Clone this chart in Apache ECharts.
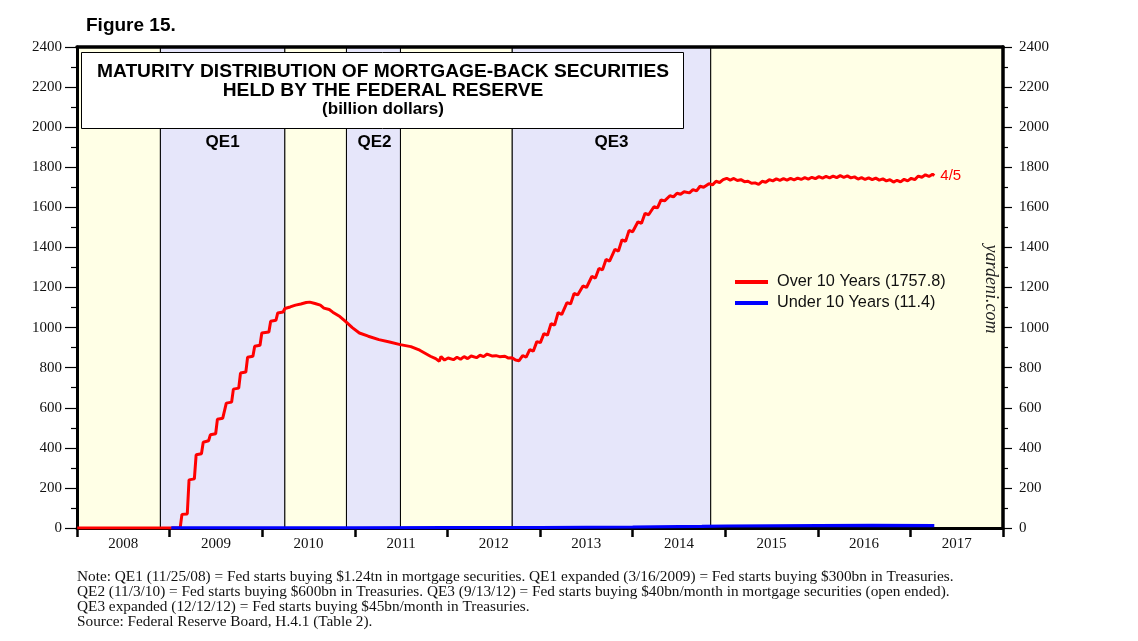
<!DOCTYPE html>
<html>
<head>
<meta charset="utf-8">
<script src="https://cdn.jsdelivr.net/npm/echarts@6/dist/echarts.min.js"></script>
<style>
html,body{margin:0;padding:0;background:#fff;}
#chart{width:1138px;height:641px;}
</style>
</head>
<body>
<div id="chart"></div>
<script>
// ---- Data ----
var yearLabels = ['2008','2009','2010','2011','2012','2013','2014','2015','2016','2017'];

var over10Dates = [
'2008-01-02','2009-02-11','2009-02-18','2009-03-11','2009-03-18','2009-04-08','2009-04-15','2009-05-06','2009-05-13','2009-06-03',
'2009-06-10','2009-07-01','2009-07-08','2009-07-29','2009-08-12','2009-09-02','2009-09-09','2009-09-30','2009-10-07','2009-10-28',
'2009-11-04','2009-11-25','2009-12-02','2009-12-23','2009-12-30','2010-01-27','2010-02-03','2010-02-24','2010-03-03','2010-03-24',
'2010-03-31','2010-04-21','2010-05-12','2010-06-02','2010-06-23','2010-07-07','2010-07-28','2010-08-18','2010-09-01','2010-09-22',
'2010-10-06','2010-11-03','2010-11-24','2010-12-22','2011-01-19','2011-02-23','2011-04-06','2011-05-18','2011-06-29','2011-08-10',
'2011-09-14','2011-10-05','2011-10-26','2011-11-16','2011-11-30','2011-12-07','2011-12-21','2012-01-04','2012-01-25','2012-02-08',
'2012-02-22','2012-03-07','2012-03-21','2012-04-04','2012-04-25','2012-05-09','2012-05-23','2012-06-06','2012-06-27','2012-07-11',
'2012-07-25','2012-08-15','2012-08-29','2012-09-12','2012-09-26','2012-10-10','2012-10-24','2012-11-07','2012-11-21','2012-12-05',
'2012-12-19','2013-01-02','2013-01-16','2013-01-30','2013-02-13','2013-02-27','2013-03-13','2013-03-27','2013-04-17','2013-05-01',
'2013-05-15','2013-05-29','2013-06-19','2013-07-03','2013-07-24','2013-08-07','2013-08-21','2013-09-04','2013-09-18','2013-10-02',
'2013-10-23','2013-11-06','2013-11-20','2013-12-04','2013-12-18','2014-01-01','2014-01-22','2014-02-05','2014-02-19','2014-03-05',
'2014-03-26','2014-04-09','2014-04-23','2014-05-07','2014-05-28','2014-06-11','2014-06-25','2014-07-09','2014-07-23','2014-08-13',
'2014-08-27','2014-09-10','2014-09-24','2014-10-08','2014-10-29','2014-11-12','2014-11-26','2014-12-10','2014-12-24',
'2015-01-07','2015-01-21','2015-02-04','2015-02-18','2015-03-04','2015-03-18','2015-04-01','2015-04-15','2015-04-29','2015-05-13',
'2015-05-27','2015-06-10','2015-06-24','2015-07-08','2015-07-22','2015-08-05','2015-08-19','2015-09-02','2015-09-16','2015-09-30',
'2015-10-14','2015-10-28','2015-11-11','2015-11-25','2015-12-09','2015-12-23','2016-01-06','2016-01-20','2016-02-03','2016-02-17',
'2016-03-02','2016-03-16','2016-03-30','2016-04-13','2016-04-27','2016-05-11','2016-05-25','2016-06-08','2016-06-22','2016-07-06',
'2016-07-20','2016-08-03','2016-08-17','2016-08-31','2016-09-14','2016-09-28','2016-10-12','2016-10-26','2016-11-09','2016-11-23',
'2016-12-07','2016-12-21','2017-01-04','2017-01-18','2017-02-01','2017-02-15','2017-03-01','2017-03-15','2017-03-29','2017-04-05'
];
var over10Values = [
0,0,68,70,240,245,365,370,428,435,
465,470,543,548,623,628,693,698,773,778,
852,857,907,912,973,978,1032,1037,1073,1078,
1095,1103,1112,1118,1125,1127,1120,1112,1097,1090,
1077,1055,1032,1000,973,957,940,928,915,905,
887,872,857,845,832,855,838,848,840,852,
842,855,845,858,850,862,855,868,858,860,
855,857,848,850,838,835,860,853,890,882,
930,925,970,962,1020,1012,1075,1065,1125,1118,
1170,1163,1208,1200,1255,1247,1295,1288,1340,1332,
1390,1382,1438,1430,1485,1478,1528,1520,1570,1563,
1603,1597,1637,1632,1658,1652,1670,1665,1678,1672,
1688,1682,1705,1700,1718,1712,1730,1724,1738,
1745,1736,1744,1734,1738,1728,1730,1720,1722,1715,
1730,1725,1738,1732,1742,1735,1743,1736,1744,1737,
1746,1739,1748,1741,1750,1743,1753,1746,1754,1747,
1756,1748,1758,1750,1757,1747,1752,1741,1748,1739,
1747,1738,1746,1736,1742,1732,1738,1726,1735,1727,
1740,1732,1745,1738,1756,1750,1762,1754,1765,1757.8
];

var under10Dates = ['2009-01-07','2010-01-06','2011-01-05','2012-01-04','2013-01-02','2014-01-01','2014-10-01','2015-01-07','2016-01-06','2016-08-03','2017-04-05'];
var under10Values = [0.3,0.5,0.8,1.5,2.5,5,8,10,12,13,11.4];

var regionStarts = ['2008-01-01','2008-11-25','2010-03-31','2010-11-29','2011-06-30','2012-09-13','2014-11-05'];
var regionEnds   = ['2008-11-25','2010-03-31','2010-11-29','2011-06-30','2012-09-13','2014-11-05','2018-01-01'];
var regionNames  = ['','QE1','','QE2','','QE3',''];

var seriesNames = ['Over 10 Years (1757.8)','Under 10 Years (11.4)'];
var endLabelText = '4/5';

var titleLines = ['MATURITY DISTRIBUTION OF MORTGAGE-BACK SECURITIES','HELD BY THE FEDERAL RESERVE','(billion dollars)'];
var noteText = [
'Note: QE1 (11/25/08) = Fed starts buying $1.24tn in mortgage securities. QE1 expanded (3/16/2009) = Fed starts buying $300bn in Treasuries.',
'QE2 (11/3/10) = Fed starts buying $600bn in Treasuries. QE3 (9/13/12) = Fed starts buying $40bn/month in mortgage securities (open ended).',
'QE3 expanded (12/12/12) = Fed starts buying $45bn/month in Treasuries.',
'Source: Federal Reserve Board, H.4.1 (Table 2).'
];

// ---- Build ----
var YELLOW = '#FFFFE6', LAV = '#E6E6FA';
var over10 = over10Dates.map(function(d,i){return [d, over10Values[i]];});
var under10 = under10Dates.map(function(d,i){return [d, under10Values[i]];});
var areas = regionStarts.map(function(s,i){
  return [{
    xAxis: s, yAxis: 0, name: regionNames[i],
    itemStyle: {color: regionNames[i] ? LAV : YELLOW},
    label: {offset: regionNames[i]==='QE2' ? [1,0] : [0,0]}
  },{xAxis: regionEnds[i], yAxis: 2400}];
});

var serif = '"Liberation Serif","Times New Roman",serif';
var sans = '"Liberation Sans",Arial,sans-serif';
var plainNum = function(v){ return String(v); };

var chart = echarts.init(document.getElementById('chart'), null, {renderer:'canvas'});
chart.setOption({
  backgroundColor: '#fff',
  animation: false,
  grid: {left: 77, right: 135, top: 47, bottom: 113, containLabel: false},
  xAxis: [
    {type:'time', min:'2008-01-01', max:'2018-01-01', show:false},
    {type:'category', data: yearLabels, position:'bottom', boundaryGap:true, z:3,
     axisLine:{show:true, lineStyle:{color:'#000', width:3}},
     axisTick:{show:true, length:9, lineStyle:{color:'#000', width:2.5}},
     axisLabel:{fontFamily: serif, fontSize:15, color:'#111', margin:9},
     splitLine:{show:false}},
    {type:'category', data: yearLabels, position:'top', z:3,
     axisLine:{show:true, lineStyle:{color:'#000', width:3.5}},
     axisTick:{show:false}, axisLabel:{show:false}, splitLine:{show:false}}
  ],
  yAxis: [
    {type:'value', min:0, max:2400, interval:200, position:'left', z:3,
     axisLine:{show:true, lineStyle:{color:'#000', width:3}},
     axisTick:{show:true, length:12, lineStyle:{color:'#000', width:1.2}},
     minorTick:{show:true, splitNumber:2, length:6, lineStyle:{color:'#000', width:1.2}},
     axisLabel:{fontFamily: serif, fontSize:15, color:'#111', margin:15, formatter: plainNum},
     splitLine:{show:false}},
    {type:'value', min:0, max:2400, interval:200, position:'right', z:3,
     axisLine:{show:true, lineStyle:{color:'#000', width:3.5}},
     axisTick:{show:true, length:9, lineStyle:{color:'#000', width:1.2}},
     minorTick:{show:true, splitNumber:2, length:5, lineStyle:{color:'#000', width:1.2}},
     axisLabel:{fontFamily: serif, fontSize:15, color:'#111', margin:16, formatter: plainNum},
     splitLine:{show:false}}
  ],
  legend: {
    left: 730, top: 269, orient:'vertical', itemGap:5,
    itemWidth: 33, itemHeight: 4, icon:'rect',
    data: seriesNames,
    textStyle: {fontFamily: sans, fontSize:16.3, color:'#111', padding:[0,0,0,4]}
  },
  series: [
    {name: seriesNames[0], type:'line', data: over10, showSymbol:false, symbol:'none', z:4,
     xAxisIndex:0, yAxisIndex:0,
     lineStyle:{color:'#ff0000', width:3}, itemStyle:{color:'#ff0000'},
     endLabel:{show:true, formatter: endLabelText, color:'#ff0000', fontFamily: sans, fontSize:15, distance:6},
     markArea:{silent:true, z:1,
       itemStyle:{borderColor:'#000', borderWidth:1},
       label:{show:true, position:'insideTop', distance:87, fontFamily: sans, fontWeight:'bold', fontSize:17, color:'#000'},
       data: areas}
    },
    {name: seriesNames[1], type:'line', data: under10, showSymbol:false, symbol:'none', z:5,
     xAxisIndex:0, yAxisIndex:0,
     lineStyle:{color:'#0000ff', width:3.2}, itemStyle:{color:'#0000ff'}}
  ],
  graphic: [
    {type:'text', left:86, top:16, style:{text:'Figure 15.', font:'bold 19px '+sans, fill:'#000'}},
    {type:'rect', left:81, top:52, z:10, shape:{width:602, height:76}, style:{fill:'#fff', stroke:'#000', lineWidth:1}},
    {type:'text', x:383, y:72, z:11, style:{text:titleLines[0], font:'bold 19.2px '+sans, fill:'#000', textAlign:'center', textVerticalAlign:'middle'}},
    {type:'text', x:383, y:90.5, z:11, style:{text:titleLines[1], font:'bold 19.2px '+sans, fill:'#000', textAlign:'center', textVerticalAlign:'middle'}},
    {type:'text', x:383, y:109.5, z:11, style:{text:titleLines[2], font:'bold 17px '+sans, fill:'#000', textAlign:'center', textVerticalAlign:'middle'}},
    {type:'text', x:991, y:289, rotation:-Math.PI/2, z:11, style:{text:'yardeni.com', font:'italic 18px '+serif, fill:'#222', textAlign:'center', textVerticalAlign:'middle'}},
    {type:'text', left:77, top:569, z:11, style:{text:noteText.join('\n'), font:'15.3px '+serif, lineHeight:15, fill:'#111'}}
  ]
});
</script>
</body>
</html>
